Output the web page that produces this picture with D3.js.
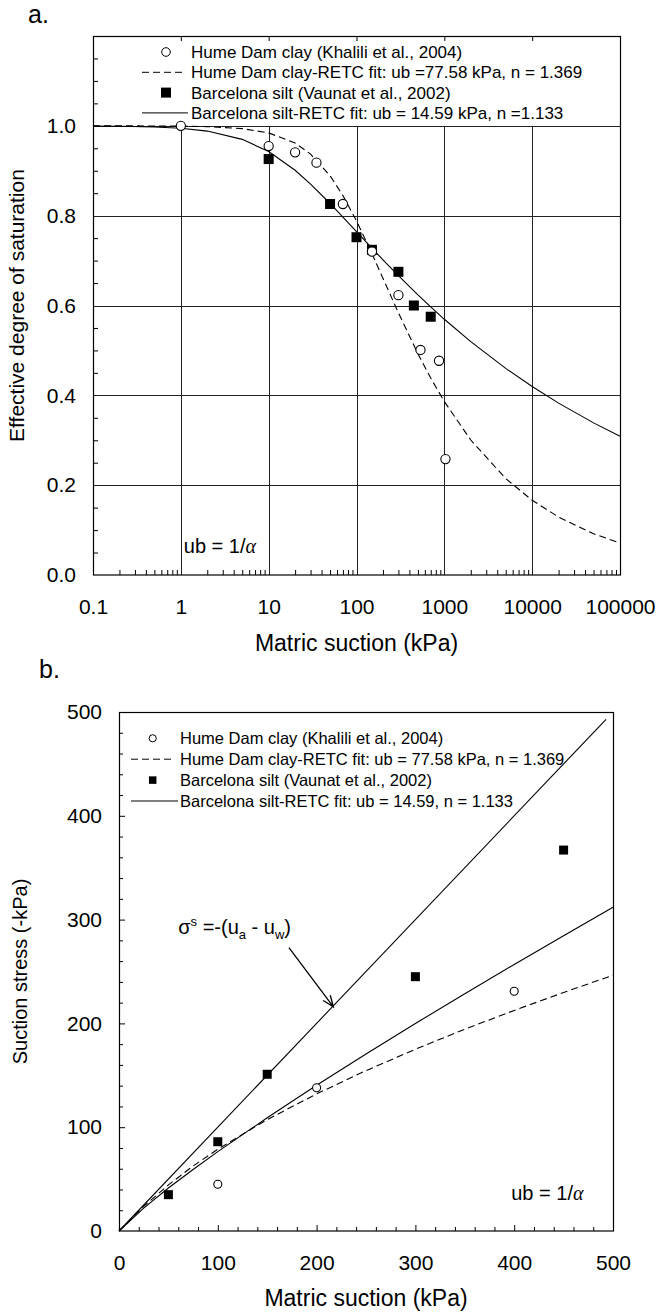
<!DOCTYPE html>
<html>
<head>
<meta charset="utf-8">
<script src="https://cdn.jsdelivr.net/npm/d3@7/dist/d3.min.js"></script>
<style>
  body { margin: 0; background: #fff; }
  svg text { font-family: "Liberation Sans", Arial, sans-serif; fill: #000; }
</style>
</head>
<body>
<svg id="chart" width="669" height="1312"></svg>
<script>
// ---- panel a: effective degree of saturation vs matric suction ----
const humeSuction = [1, 10, 20, 35, 70, 150, 300, 535, 870, 1030];
const humeSe = [1.0, 0.955, 0.941, 0.918, 0.826, 0.72, 0.623, 0.501, 0.477, 0.258];
const barcSuction = [10, 50, 100, 150, 300, 450, 700];
const barcSe = [0.926, 0.826, 0.752, 0.724, 0.675, 0.600, 0.575];

const fitSuctionA = [0.1, 0.2, 0.5, 1, 2, 5, 10, 20, 30, 50, 70, 100, 150, 200, 300, 500, 700, 1000, 2000, 5000, 10000, 20000, 50000, 100000];
const humeFitSe = [1.0, 1.0, 0.9997, 0.9993, 0.9982, 0.9938, 0.9843, 0.9616, 0.9371, 0.8889, 0.8449, 0.7884, 0.7153, 0.6606, 0.5837, 0.4927, 0.4384, 0.3862, 0.3005, 0.2147, 0.1664, 0.1289, 0.0919, 0.0712];
const barcFitSe = [0.9996, 0.9991, 0.9975, 0.9945, 0.9883, 0.9699, 0.9428, 0.9010, 0.8704, 0.8271, 0.7970, 0.7645, 0.7276, 0.7018, 0.6664, 0.6236, 0.5968, 0.5693, 0.5195, 0.4600, 0.4196, 0.3826, 0.3387, 0.3089];

const decadeTicks = [0.1, 1, 10, 100, 1000, 10000, 100000];
const seTicks = [0, 0.2, 0.4, 0.6, 0.8, 1.0];

const legendA = [
    "Hume Dam clay (Khalili et al., 2004)",
    "Hume Dam clay-RETC fit: ub =77.58 kPa, n = 1.369",
    "Barcelona silt (Vaunat et al., 2002)",
    "Barcelona silt-RETC fit: ub = 14.59 kPa, n =1.133"
];

// ---- panel b: suction stress vs matric suction ----
const humeStressSuction = [100, 200, 400];
const humeStress = [45, 138, 231];
const barcStressSuction = [50, 100, 150, 300, 450];
const barcStress = [35, 86, 151, 245, 367];

const fitSuctionB = [0, 25, 50, 75, 100, 150, 200, 250, 300, 350, 400, 450, 500];
const humeFitStress = [0, 23.7, 44.4, 62.6, 78.8, 107.3, 132.1, 154.5, 175.1, 194.4, 212.5, 229.8, 246.4];
const barcFitStress = [0, 22.1, 41.4, 59.3, 76.5, 109.1, 140.4, 170.5, 199.9, 228.6, 256.8, 284.5, 311.8];
const equalLine = [0, 493]; // sigma_s = -(ua - uw)

const stressTicks = [0, 100, 200, 300, 400, 500];

const legendB = [
    "Hume Dam clay (Khalili et al., 2004)",
    "Hume Dam clay-RETC fit: ub = 77.58 kPa, n = 1.369",
    "Barcelona silt (Vaunat et al., 2002)",
    "Barcelona silt-RETC fit: ub = 14.59, n = 1.133"
];

const FONT = '"Liberation Sans", Arial, sans-serif';
const DASH = "7,4";
const svg = d3.select("#chart");

function zip(xs, ys) {
    return xs.map((x, i) => [x, ys[i]]);
}

function styleAxis(g, size) {
    g.attr("font-size", size).attr("font-family", FONT);
    g.select(".domain").remove();
    g.selectAll("line").attr("stroke", "#000");
}

function drawLegend(g, labels, opt) {
    labels.forEach((label, i) => {
        const y = opt.y0 + i * opt.dy;
        if (i === 0) {
            g.append("circle").attr("cx", opt.cx).attr("cy", y).attr("r", opt.r)
                .attr("fill", "#fff").attr("stroke", "#000").attr("stroke-width", 1);
        } else if (i === 2) {
            g.append("rect").attr("x", opt.cx - opt.s / 2).attr("y", y - opt.s / 2)
                .attr("width", opt.s).attr("height", opt.s).attr("fill", "#000");
        } else {
            g.append("line").attr("x1", opt.lx0).attr("x2", i === 1 ? opt.lx1 - 3 : opt.lx1)
                .attr("y1", y).attr("y2", y).attr("stroke", "#000").attr("stroke-width", 1)
                .attr("stroke-dasharray", i === 1 ? DASH : null);
        }
        g.append("text").attr("x", opt.tx).attr("y", y).attr("dy", "0.35em")
            .attr("font-size", opt.fs).text(label);
    });
}

// ================= panel a =================
(function () {
    const margin = { top: 36, left: 93 };
    const width = 527, height = 539;
    const g = svg.append("g").attr("transform", `translate(${margin.left},${margin.top})`);

    const x = d3.scaleLog().domain([0.1, 100000]).range([0, width]);
    const y = d3.scaleLinear().domain([0, 1.2]).range([height, 0]);

    // grid
    g.append("g").selectAll("line").data(seTicks.slice(1)).join("line")
        .attr("x1", 0).attr("x2", width).attr("y1", d => Math.round(y(d)) + 0.5).attr("y2", d => Math.round(y(d)) + 0.5)
        .attr("stroke", "#222").attr("stroke-width", 1);
    g.append("g").selectAll("line").data(decadeTicks.slice(1, -1)).join("line")
        .attr("x1", d => Math.round(x(d)) + 0.5).attr("x2", d => Math.round(x(d)) + 0.5)
        .attr("y1", y(0)).attr("y2", y(1.0))
        .attr("stroke", "#222").attr("stroke-width", 1);

    // minor ticks
    const minorX = [];
    decadeTicks.slice(0, -1).forEach(d => { for (let k = 2; k <= 9; k++) minorX.push(d * k); });
    g.append("g").attr("transform", `translate(0,${height})`)
        .call(d3.axisBottom(x).tickValues(minorX).tickSize(-5).tickFormat(""))
        .call(a => styleAxis(a, 21));
    g.append("g")
        .call(d3.axisTop(x).tickValues(decadeTicks.slice(1, -1)).tickSize(-5).tickFormat(""))
        .call(a => styleAxis(a, 21));
    const minorY = d3.range(1, 24).map(i => i * 0.05).filter(v => Math.abs(v / 0.2 - Math.round(v / 0.2)) > 1e-6);
    g.append("g")
        .call(d3.axisLeft(y).tickValues(minorY).tickSize(-5).tickFormat(""))
        .call(a => styleAxis(a, 21));

    // tick labels
    g.append("g").attr("transform", `translate(0,${height})`)
        .call(d3.axisBottom(x).tickValues(decadeTicks).tickFormat(d => String(d)).tickSize(0).tickPadding(24))
        .call(a => styleAxis(a, 21));
    g.append("g")
        .call(d3.axisLeft(y).tickValues(seTicks).tickFormat(d3.format(".1f")).tickSize(0).tickPadding(17))
        .call(a => styleAxis(a, 21));

    // frame
    g.append("rect").attr("x", 0.5).attr("y", 0.5).attr("width", width).attr("height", height - 0.5)
        .attr("fill", "none").attr("stroke", "#000").attr("stroke-width", 1.2);

    // fit curves
    const line = d3.line().x(d => x(d[0])).y(d => y(d[1]));
    g.append("path").datum(zip(fitSuctionA, humeFitSe))
        .attr("fill", "none").attr("stroke", "#000").attr("stroke-width", 1.1)
        .attr("stroke-dasharray", DASH).attr("d", line);
    g.append("path").datum(zip(fitSuctionA, barcFitSe))
        .attr("fill", "none").attr("stroke", "#000").attr("stroke-width", 1.1).attr("d", line);

    // data points
    g.selectAll(".sq-a").data(zip(barcSuction, barcSe)).join("rect")
        .attr("class", "sq-a")
        .attr("x", d => x(d[0]) - 5).attr("y", d => y(d[1]) - 5)
        .attr("width", 10).attr("height", 10).attr("fill", "#000");
    g.selectAll(".ci-a").data(zip(humeSuction, humeSe)).join("circle")
        .attr("class", "ci-a")
        .attr("cx", d => x(d[0])).attr("cy", d => y(d[1])).attr("r", 4.6)
        .attr("fill", "#fff").attr("stroke", "#000").attr("stroke-width", 1.1);

    drawLegend(g, legendA, { cx: 73, r: 4.3, s: 10, lx0: 49, lx1: 95, tx: 98, y0: 16, dy: 20.3, fs: 17 });

    // note
    g.append("text").attr("x", x(1.08)).attr("y", y(0.05)).attr("font-size", 20)
        .call(t => {
            t.append("tspan").text("ub = 1/");
            t.append("tspan").attr("font-family", '"Liberation Serif", serif').attr("font-style", "italic").text("α");
        });

    // axis titles
    g.append("text").attr("x", width / 2).attr("y", height + 76).attr("text-anchor", "middle")
        .attr("font-size", 23).text("Matric suction (kPa)");
    g.append("text").attr("transform", `translate(${-69},${height / 2}) rotate(-90)`)
        .attr("text-anchor", "middle").attr("font-size", 21).text("Effective degree of saturation");

    svg.append("text").attr("x", 28).attr("y", 23).attr("font-size", 25)
        .attr("font-family", '"Open Sans", "Noto Sans", sans-serif').text("a.");
})();

// ================= panel b =================
(function () {
    const margin = { top: 712, left: 119 };
    const width = 494, height = 519;
    const g = svg.append("g").attr("transform", `translate(${margin.left},${margin.top})`);

    const x = d3.scaleLinear().domain([0, 500]).range([0, width]);
    const y = d3.scaleLinear().domain([0, 500]).range([height, 0]);

    const minor = d3.range(20, 500, 20).filter(v => v % 100 !== 0);
    const major = stressTicks.slice(1, -1);

    g.append("g").attr("transform", `translate(0,${height})`)
        .call(d3.axisBottom(x).tickValues(minor).tickSize(-4).tickFormat(""))
        .call(a => styleAxis(a, 21));
    g.append("g").attr("transform", `translate(0,${height})`)
        .call(d3.axisBottom(x).tickValues(major).tickSize(-6).tickFormat(""))
        .call(a => styleAxis(a, 21));
    g.append("g")
        .call(d3.axisLeft(y).tickValues(minor).tickSize(-4).tickFormat(""))
        .call(a => styleAxis(a, 21));
    g.append("g")
        .call(d3.axisLeft(y).tickValues(major).tickSize(-6).tickFormat(""))
        .call(a => styleAxis(a, 21));

    g.append("g").attr("transform", `translate(0,${height})`)
        .call(d3.axisBottom(x).tickValues(stressTicks).tickSize(0).tickPadding(24))
        .call(a => styleAxis(a, 21));
    g.append("g")
        .call(d3.axisLeft(y).tickValues(stressTicks).tickSize(0).tickPadding(17))
        .call(a => styleAxis(a, 21));

    g.append("rect").attr("x", 0.5).attr("y", 0.5).attr("width", width).attr("height", height - 0.5)
        .attr("fill", "none").attr("stroke", "#000").attr("stroke-width", 1.2);

    const line = d3.line().x(d => x(d[0])).y(d => y(d[1]));
    g.append("path").datum(zip(equalLine, equalLine))
        .attr("fill", "none").attr("stroke", "#000").attr("stroke-width", 1.1).attr("d", line);
    g.append("path").datum(zip(fitSuctionB, humeFitStress))
        .attr("fill", "none").attr("stroke", "#000").attr("stroke-width", 1.1)
        .attr("stroke-dasharray", DASH).attr("d", line);
    g.append("path").datum(zip(fitSuctionB, barcFitStress))
        .attr("fill", "none").attr("stroke", "#000").attr("stroke-width", 1.1).attr("d", line);

    g.selectAll(".sq-b").data(zip(barcStressSuction, barcStress)).join("rect")
        .attr("class", "sq-b")
        .attr("x", d => x(d[0]) - 4.5).attr("y", d => y(d[1]) - 4.5)
        .attr("width", 9).attr("height", 9).attr("fill", "#000");
    g.selectAll(".ci-b").data(zip(humeStressSuction, humeStress)).join("circle")
        .attr("class", "ci-b")
        .attr("cx", d => x(d[0])).attr("cy", d => y(d[1])).attr("r", 4)
        .attr("fill", "#fff").attr("stroke", "#000").attr("stroke-width", 1.1);

    drawLegend(g, legendB, { cx: 33.7, r: 3.6, s: 7.5, lx0: 12, lx1: 59, tx: 61, y0: 26.3, dy: 20.9, fs: 16.5 });

    // annotation with arrow
    const ann = g.append("text").attr("x", x(60)).attr("y", y(286)).attr("font-size", 20);
    ann.append("tspan").text("σ");
    ann.append("tspan").attr("dy", -8).attr("font-size", 13).text("s");
    ann.append("tspan").attr("dy", 8).text(" =-(u");
    ann.append("tspan").attr("dy", 5).attr("font-size", 13).text("a");
    ann.append("tspan").attr("dy", -5).text(" - u");
    ann.append("tspan").attr("dy", 5).attr("font-size", 13).text("w");
    ann.append("tspan").attr("dy", -5).text(")");

    const p0 = [x(172), y(273)], p1 = [x(217), y(216)];
    const ang = Math.atan2(p1[1] - p0[1], p1[0] - p0[0]);
    const headLen = 12, spread = 0.38;
    const w1 = [p1[0] - headLen * Math.cos(ang - spread), p1[1] - headLen * Math.sin(ang - spread)];
    const w2 = [p1[0] - headLen * Math.cos(ang + spread), p1[1] - headLen * Math.sin(ang + spread)];
    g.append("path").attr("d", `M${p0}L${p1}M${w1}L${p1}L${w2}`)
        .attr("fill", "none").attr("stroke", "#000").attr("stroke-width", 1.3);

    g.append("text").attr("x", x(397)).attr("y", y(30)).attr("font-size", 20)
        .call(t => {
            t.append("tspan").text("ub = 1/");
            t.append("tspan").attr("font-family", '"Liberation Serif", serif').attr("font-style", "italic").text("α");
        });

    g.append("text").attr("x", width / 2).attr("y", height + 75).attr("text-anchor", "middle")
        .attr("font-size", 23).text("Matric suction (kPa)");
    g.append("text").attr("transform", `translate(${-92},${height / 2}) rotate(-90)`)
        .attr("text-anchor", "middle").attr("font-size", 20).text("Suction stress (-kPa)");

    svg.append("text").attr("x", 39).attr("y", 678).attr("font-size", 25)
        .attr("font-family", '"Open Sans", "Noto Sans", sans-serif').text("b.");
})();
</script>
</body>
</html>
